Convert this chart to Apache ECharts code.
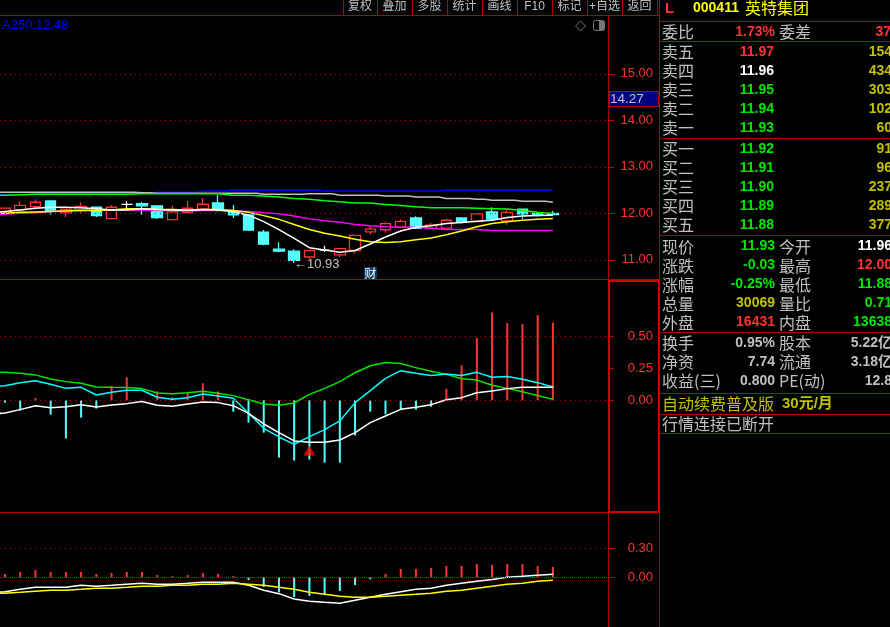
<!DOCTYPE html>
<html>
<head>
<meta charset="utf-8">
<style>
  html, body { margin: 0; padding: 0; background: #000; }
  #chart { width: 890px; height: 627px; }
</style>
<script src="https://cdn.jsdelivr.net/npm/echarts@6/dist/echarts.min.js"></script>
</head>
<body>
<div id="chart"></div>
<script>
// candles, index 0..36
const candleOpen = [12.0,12.08,12.144,12.267,12.007,12.06,12.13,11.885,12.19,12.21,12.16,11.863,12.014,12.087,12.224,12.05,11.964,11.596,11.228,11.185,11.06,11.206,11.105,11.20,11.60,11.646,11.71,11.90,11.675,11.68,11.90,11.82,12.03,11.834,12.087,12.0,12.0];
const candleClose = [12.11,12.17,12.238,12.05,12.087,12.15,11.95,12.13,12.19,12.16,11.906,12.03,12.108,12.195,12.087,11.964,11.64,11.336,11.185,10.99,11.20,11.206,11.24,11.524,11.66,11.78,11.827,11.675,11.747,11.85,11.81,11.986,11.877,12.02,11.986,11.964,11.97];
const candleLow = [12.0,12.08,12.115,11.97,11.92,12.01,11.92,11.885,12.11,11.97,11.88,11.863,12.0,12.08,12.036,11.90,11.62,11.315,11.163,10.93,11.02,11.17,11.06,11.134,11.54,11.58,11.71,11.675,11.675,11.68,11.78,11.805,11.84,11.755,11.885,11.93,11.96];
const candleHigh = [12.11,12.26,12.30,12.267,12.09,12.24,12.13,12.18,12.26,12.245,12.16,12.16,12.267,12.33,12.40,12.18,11.964,11.64,11.38,11.228,11.20,11.30,11.24,11.524,11.71,11.82,11.87,11.935,11.79,11.877,11.90,12.0,12.13,12.07,12.087,12.02,12.05];

// moving averages, first value sits one bar left of the window
const maWhite = [12.01,12.04,12.07,12.11,12.13,12.13,12.12,12.10,12.07,12.07,12.10,12.08,12.07,12.06,12.08,12.07,12.04,11.96,11.82,11.65,11.46,11.26,11.21,11.16,11.20,11.34,11.49,11.62,11.70,11.73,11.78,11.80,11.83,11.85,11.91,11.94,11.95,11.96];
const maYellow = [12.00,12.00,12.02,12.03,12.04,12.05,12.06,12.06,12.07,12.10,12.10,12.08,12.08,12.07,12.08,12.08,12.06,12.02,11.95,11.87,11.76,11.65,11.57,11.51,11.44,11.39,11.37,11.39,11.43,11.47,11.54,11.62,11.71,11.78,11.82,11.85,11.87,11.89];
const maMagenta = [11.97,11.98,12.00,12.01,12.04,12.05,12.08,12.07,12.07,12.07,12.07,12.06,12.05,12.05,12.06,12.06,12.05,12.04,12.01,11.99,11.94,11.88,11.84,11.81,11.76,11.73,11.71,11.70,11.70,11.68,11.65,11.65,11.65,11.63,11.63,11.63,11.63,11.63];
const maGreen = [12.39,12.39,12.40,12.41,12.41,12.41,12.41,12.41,12.41,12.41,12.42,12.42,12.42,12.42,12.42,12.42,12.39,12.39,12.37,12.35,12.32,12.30,12.27,12.25,12.22,12.22,12.19,12.17,12.14,12.12,12.12,12.12,12.11,12.10,12.09,12.06,12.02,11.99];
const maGray = [12.45,12.45,12.45,12.45,12.45,12.45,12.45,12.45,12.45,12.45,12.44,12.43,12.43,12.43,12.43,12.43,12.43,12.43,12.41,12.41,12.41,12.42,12.42,12.39,12.39,12.39,12.37,12.37,12.35,12.35,12.32,12.32,12.30,12.28,12.28,12.26,12.26,12.24];
const maBlue = [12.40,12.40,12.40,12.42,12.42,12.42,12.42,12.42,12.42,12.43,12.43,12.45,12.45,12.45,12.48,12.48,12.50,12.50,12.50,12.50,12.50,12.50,12.48,12.48,12.48,12.48,12.48,12.48,12.48,12.48,12.50,12.50,12.50,12.50,12.50,12.50,12.50,12.50];

// middle indicator
const midBars = [-0.018,-0.081,0.018,-0.113,-0.30,-0.136,-0.065,0.113,0.18,0.005,0.07,0.024,0.058,0.134,0.07,-0.089,-0.175,-0.254,-0.45,-0.474,-0.466,-0.49,-0.49,-0.277,-0.089,-0.11,-0.068,-0.073,-0.05,0.089,0.275,0.49,0.69,0.607,0.60,0.67,0.612];
const midGreen = [0.22,0.22,0.212,0.20,0.168,0.147,0.134,0.105,0.102,0.10,0.092,0.058,0.052,0.06,0.071,0.055,0.037,0.005,-0.029,-0.039,-0.021,0.047,0.094,0.147,0.217,0.272,0.298,0.29,0.257,0.228,0.204,0.17,0.16,0.118,0.094,0.068,0.037,0.008];
const midCyan = [0.11,0.115,0.139,0.154,0.126,0.094,0.102,0.042,0.063,0.079,0.079,0.024,0.008,0.021,0.05,0.034,0.016,-0.102,-0.22,-0.288,-0.346,-0.285,-0.23,-0.162,-0.018,0.076,0.173,0.233,0.212,0.196,0.207,0.196,0.22,0.181,0.188,0.165,0.139,0.105];
const midWhite = [-0.11,-0.099,-0.073,-0.042,-0.058,-0.05,-0.034,-0.052,-0.037,-0.026,-0.01,-0.039,-0.047,-0.029,-0.013,-0.018,-0.042,-0.102,-0.186,-0.254,-0.319,-0.33,-0.33,-0.312,-0.254,-0.175,-0.123,-0.071,-0.055,-0.034,0.005,0.021,0.06,0.073,0.092,0.102,0.102,0.102];
const signalPoints = [[20, -0.395]];

// lower indicator
const lowBars = [0.035,0.056,0.077,0.056,0.056,0.056,0.035,0.045,0.056,0.056,0.024,0.014,0.024,0.045,0.035,0.014,-0.028,-0.101,-0.157,-0.206,-0.195,-0.178,-0.143,-0.08,-0.021,0.035,0.087,0.087,0.098,0.119,0.119,0.14,0.129,0.14,0.14,0.119,0.108];
const lowWhite = [-0.16,-0.15,-0.126,-0.105,-0.105,-0.105,-0.084,-0.094,-0.084,-0.073,-0.063,-0.073,-0.073,-0.063,-0.052,-0.052,-0.052,-0.084,-0.136,-0.171,-0.227,-0.251,-0.262,-0.272,-0.241,-0.209,-0.178,-0.15,-0.126,-0.115,-0.084,-0.063,-0.042,-0.024,0,0.01,0.021,0.031];
const lowYellow = [-0.167,-0.167,-0.157,-0.146,-0.136,-0.136,-0.126,-0.115,-0.115,-0.105,-0.094,-0.094,-0.084,-0.084,-0.073,-0.073,-0.063,-0.073,-0.084,-0.105,-0.126,-0.157,-0.178,-0.199,-0.209,-0.209,-0.199,-0.188,-0.178,-0.167,-0.146,-0.136,-0.115,-0.094,-0.073,-0.063,-0.042,-0.031];

// axis ticks
const priceTicks = [11, 12, 13, 14, 15];
const midTicks = [0, 0.25, 0.5];
const midDotted = [0, 0.5];
const lowTicks = [0, 0.3];

// quote panel
const prevClose = 11.96;
const sellLabels = ['卖五', '卖四', '卖三', '卖二', '卖一'];
const sellPrices = ['11.97', '11.96', '11.95', '11.94', '11.93'];
const sellVols = ['154', '434', '303', '102', '60'];
const buyLabels = ['买一', '买二', '买三', '买四', '买五'];
const buyPrices = ['11.92', '11.91', '11.90', '11.89', '11.88'];
const buyVols = ['91', '96', '237', '289', '377'];
const quoteLabelsL = ['现价', '涨跌', '涨幅', '总量', '外盘'];
const quoteValuesL = ['11.93', '-0.03', '-0.25%', '30069', '16431'];
const quoteLabelsR = ['今开', '最高', '最低', '量比', '内盘'];
const quoteValuesR = ['11.96', '12.00', '11.88', '0.71', '13638'];
const statLabelsL = ['换手', '净资', '收益(三)'];
const statValuesL = ['0.95%', '7.74', '0.800'];
const statLabelsR = ['股本', '流通', 'PE(动)'];
const statValuesR = ['5.22亿', '3.18亿', '12.8'];
const toolbarLabels = ['复权', '叠加', '多股', '统计', '画线', 'F10', '标记', '+自选', '返回'];

const RED = '#ff3232', CYAN = '#54ffff', GREEN = '#00e600', DIM = '#c0c000', GRAY = '#c0c0c0';
const FRAME = '#b00000';
const quoteColorsL = [GREEN, GREEN, GREEN, DIM, RED];
const quoteColorsR = ['#fff', RED, GREEN, GREEN, GREEN];
const CJK = '"Noto Sans CJK SC"';
const NUM = '"Liberation Sans", "Noto Sans CJK SC"';

const withX = (arr) => arr.map((v, i) => [i - 1, v]);
const barData = (arr) => arr.map((v, i) => [i, v]);

const lineSeries = (name, data, color, gridIdx, extra) => Object.assign({
  name, type: 'line', data: withX(data), xAxisIndex: gridIdx, yAxisIndex: gridIdx,
  symbol: 'none', silent: true, lineStyle: { color, width: 1.5 }
}, extra);

const dotted = (values, dash) => ({
  silent: true, symbol: 'none', label: { show: false }, animation: false,
  lineStyle: { color: '#e00000', width: 1, type: dash },
  data: values.map((v) => ({ yAxis: v }))
});

const stickSeries = (data, gridIdx) => ({
  type: 'bar', data: barData(data), xAxisIndex: gridIdx, yAxisIndex: gridIdx,
  barWidth: 2, silent: true,
  itemStyle: { color: (p) => (p.value[1] >= 0 ? RED : CYAN) }
});

const candleData = candleOpen.map((o, i) => {
  const value = [i, o, candleClose[i], candleLow[i], candleHigh[i]];
  return o === candleClose[i] ? { value, itemStyle: { borderColor: '#fff', borderColor0: '#fff', borderColorDoji: '#fff' } } : value;
});

const xAxisFor = (gridIndex) => ({ type: 'value', gridIndex, min: -0.3285, max: 39.62, show: false });
const yAxisFor = (gridIndex, min, max, ticks, digits) => ({
  type: 'value', gridIndex, position: 'right', min, max,
  splitLine: { show: false },
  axisLine: { show: true, onZero: false, lineStyle: { color: FRAME, width: 1 } },
  axisTick: { show: true, length: 6, customValues: ticks, lineStyle: { color: '#c80000' } },
  axisLabel: {
    customValues: ticks, color: RED, fontFamily: NUM, fontSize: 13, align: 'right', margin: 45,
    formatter: (v) => v.toFixed(digits)
  }
});

// panel text and rules
const g = [];
const txt = (x, y, text, fill, align, font) => g.push({
  type: 'text', x, y, z: 10, silent: true,
  style: { text, fill, align: align || 'left', verticalAlign: 'middle', font: font || `16px ${CJK}` }
});
const boldNum = `bold 14px ${NUM}`;
const rule = (x1, y1, x2, y2, stroke, lineWidth) => g.push({
  type: 'line', z: 9, silent: true,
  shape: { x1, y1, x2, y2 }, style: { stroke: stroke || FRAME, lineWidth: lineWidth || 1 }
});

[15.5, 21.5, 41.5, 138.5, 235.5, 332.5, 393.5, 414.5, 433.5].forEach((y) => rule(y === 15.5 ? 0 : 660, y, y === 15.5 ? 659 : 890, y));
rule(0, 279.5, 659, 279.5);
rule(0, 512.5, 608, 512.5);
rule(659.5, 0, 659.5, 627);
// box next to the middle pane
g.push({ type: 'rect', z: 9, silent: true, shape: { x: 609, y: 281, width: 50, height: 231 }, style: { fill: 'none', stroke: '#d00000', lineWidth: 2 } });

// toolbar
const toolbarEdges = [343, 377, 412, 447, 482, 517, 552, 587, 622, 657];
toolbarEdges.forEach((x) => rule(x + 0.5, 0, x + 0.5, 15));
toolbarLabels.forEach((t, i) => txt((toolbarEdges[i] + toolbarEdges[i + 1]) / 2, 6.5, t, GRAY, 'center', `12px ${NUM}`));

txt(2, 25, 'A250:12.48', '#0000ff', 'left', `13px ${NUM}`);
g.push({ type: 'polygon', z: 10, silent: true, shape: { points: [[580.5, 21], [585.5, 26], [580.5, 31], [575.5, 26]] }, style: { fill: 'none', stroke: '#777' } });
g.push({ type: 'rect', z: 10, silent: true, shape: { x: 593.5, y: 20.5, width: 11, height: 10, r: 2 }, style: { fill: '#000', stroke: '#777' } });
g.push({ type: 'rect', z: 10, silent: true, shape: { x: 599, y: 21, width: 5, height: 9 }, style: { fill: '#777' } });

// annotations
txt(294, 264, '←10.93', GRAY, 'left', `13px ${NUM}`);
g.push({ type: 'rect', z: 9, silent: true, shape: { x: 364, y: 267, width: 13, height: 12 }, style: { fill: '#0a3a6a' } });
txt(370.5, 273, '财', '#fff', 'center', `12px ${CJK}`);
g.push({ type: 'rect', z: 9, silent: true, shape: { x: 609.5, y: 91.5, width: 49, height: 15 }, style: { fill: '#000080', stroke: FRAME } });
txt(610, 99, '14.27', GRAY, 'left', `13.5px ${NUM}`);

// header
txt(665, 9, 'L', RED, 'left', `bold 15px ${NUM}`);
txt(693, 8, '000411', '#ffff00', 'left', `bold 14px ${NUM}`);
txt(745, 8, '英特集团', '#ffff00');
txt(662, 32, '委比', GRAY);
txt(775, 32, '1.73%', RED, 'right', boldNum);
txt(779, 32, '委差', GRAY);
txt(891, 32, '37', RED, 'right', boldNum);

const priceColor = (p) => {
  const v = parseFloat(p);
  return v > prevClose ? RED : v < prevClose ? GREEN : '#fff';
};
const bookRows = (labels, prices, vols, y0) => labels.forEach((l, i) => {
  const y = y0 + i * 19;
  txt(662, y, l, GRAY);
  txt(774, y, prices[i], priceColor(prices[i]), 'right', boldNum);
  txt(892, y, vols[i], DIM, 'right', boldNum);
});
bookRows(sellLabels, sellPrices, sellVols, 52);
bookRows(buyLabels, buyPrices, buyVols, 149);

quoteLabelsL.forEach((l, i) => {
  const y = 246.5 + i * 19;
  txt(662, y, l, GRAY);
  txt(775, y, quoteValuesL[i], quoteColorsL[i], 'right', boldNum);
  txt(779, y, quoteLabelsR[i], GRAY);
  txt(892, y, quoteValuesR[i], quoteColorsR[i], 'right', boldNum);
});
statLabelsL.forEach((l, i) => {
  const y = 343 + i * 19.2;
  txt(662, y, l, GRAY);
  txt(775, y, statValuesL[i], GRAY, 'right', boldNum);
  txt(779, y, statLabelsR[i], GRAY);
  txt(892, y, statValuesR[i], GRAY, 'right', boldNum);
});
txt(662, 404, '自动续费普及版', DIM);
txt(782, 404, '30元/月', DIM, 'left', `bold 15px ${NUM}`);
txt(662, 423.5, '行情连接已断开', GRAY);

const chart = echarts.init(document.getElementById('chart'));
chart.setOption({
  backgroundColor: '#000',
  animation: false,
  grid: [
    { left: 0, width: 608, top: 16, height: 263 },
    { left: 0, width: 608, top: 280, height: 232 },
    { left: 0, width: 608, top: 513, height: 114 }
  ],
  xAxis: [xAxisFor(0), xAxisFor(1), xAxisFor(2)],
  yAxis: [
    yAxisFor(0, 10.587, 16.243, priceTicks, 2),
    yAxisFor(1, -0.878, 0.946, midTicks, 2),
    yAxisFor(2, -0.52, 0.673, lowTicks, 2)
  ],
  series: [
    lineSeries('blue', maBlue, '#0000ff', 0, { step: 'middle' }),
    lineSeries('gray', maGray, '#c0c0c0', 0, { step: 'middle' }),
    lineSeries('green', maGreen, '#00ff00', 0, { markLine: dotted(priceTicks, [1, 4]) }),
    lineSeries('magenta', maMagenta, '#ff00ff', 0),
    lineSeries('yellow', maYellow, '#ffff00', 0),
    lineSeries('white', maWhite, '#ffffff', 0),
    {
      type: 'candlestick', data: candleData, xAxisIndex: 0, yAxisIndex: 0, barWidth: 11, silent: true,
      itemStyle: { color: 'rgba(0,0,0,0)', color0: CYAN, borderColor: RED, borderColor0: CYAN, borderColorDoji: '#fff', borderWidth: 1.3 }
    },

    Object.assign(stickSeries(midBars, 1), { markLine: dotted(midDotted, [1, 4]) }),
    lineSeries('mid green', midGreen, '#00e600', 1),
    lineSeries('mid cyan', midCyan, '#00ffff', 1),
    lineSeries('mid white', midWhite, '#ffffff', 1),
    { type: 'scatter', data: signalPoints, xAxisIndex: 1, yAxisIndex: 1, symbol: 'triangle', symbolSize: [12, 10], silent: true, itemStyle: { color: '#ff0000' } },

    Object.assign(stickSeries(lowBars, 2), { markLine: dotted([lowTicks[1]], [1, 4]) }),
    lineSeries('low white', lowWhite, '#ffffff', 2, { markLine: dotted([lowTicks[0]], [1, 1]) }),
    lineSeries('low yellow', lowYellow, '#ffff00', 2)
  ],
  graphic: g
});
</script>
</body>
</html>
